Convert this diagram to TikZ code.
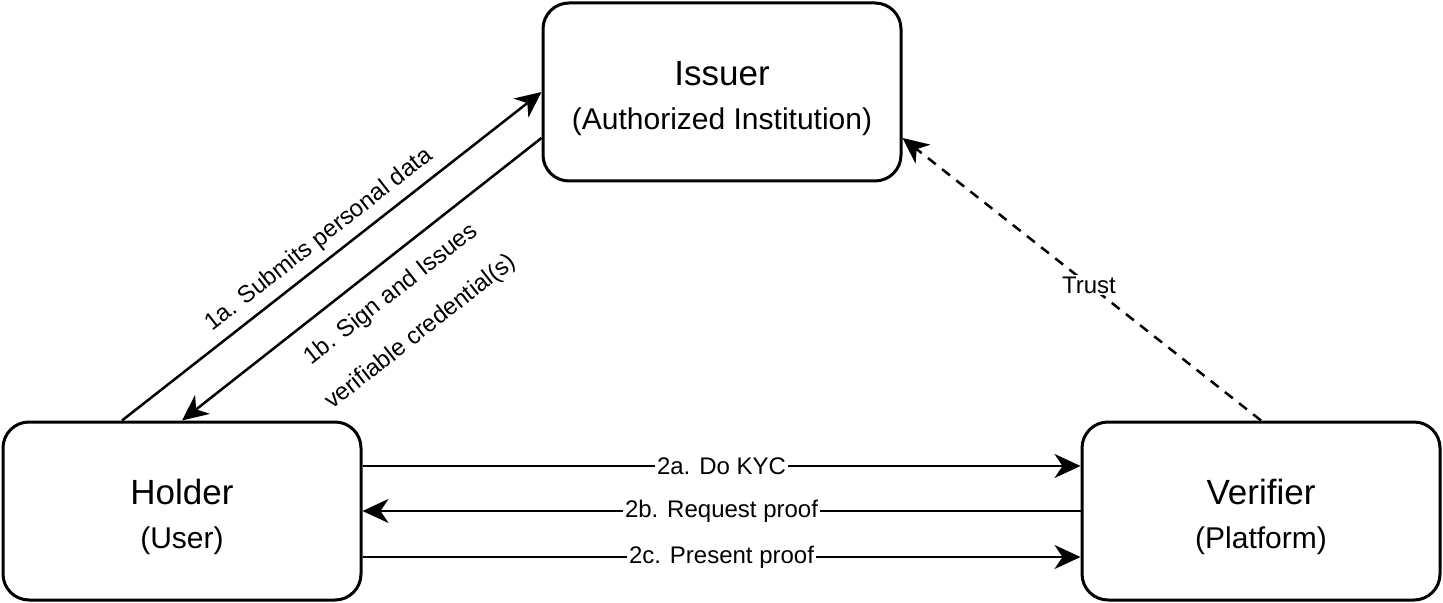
\documentclass[tikz,border=0pt]{standalone}
\usepackage{fontspec}
\setmainfont{Liberation Sans}
\usetikzlibrary{arrows.meta}

\begin{document}
\begin{tikzpicture}[x=0.5pt,y=-0.5pt,
  box/.style={draw,line width=1.5pt,rounded corners=13pt,minimum width=179pt,minimum height=89pt,
    align=center,inner sep=0pt,font=\fontsize{15}{18}\selectfont},
  ttl/.style={font=\fontsize{17.5}{21}\selectfont},
  arr/.style={line width=1.25pt,-{Stealth[length=13pt,width=12pt,inset=4pt]}},
  lbl/.style={font=\fontsize{12}{14}\selectfont,inner sep=1pt}]

  \useasboundingbox (0,0) rectangle (1443,603);

  \node[box] (I) at (722,92) {{\fontsize{17.5}{21}\selectfont\rule{0pt}{19pt}Issuer}\\[4pt](Authorized Institution)};
  \node[box] (H) at (182,511) {{\fontsize{17.5}{21}\selectfont\rule{0pt}{19pt}Holder}\\[4pt](User)};
  \node[box] (V) at (1261,511) {{\fontsize{17.5}{21}\selectfont\rule{0pt}{19pt}Verifier}\\[4pt](Platform)};

  \draw[arr] ([xshift=-30pt]H.north) -- (I.west)
    node[lbl,midway,sloped,above=3pt] {1a. Submits personal data};
  \draw[arr] ([yshift=-23pt]I.west) -- (H.north)
    node[lbl,pos=0.47,sloped,below=8pt,align=center] {1b. Sign and Issues\\[10pt]verifiable credential(s)};

  \draw[arr,dash pattern=on 5pt off 4pt] (V.north) -- ([yshift=-23pt]I.east)
    node[lbl,pos=0.48,fill=white] {Trust};

  \draw[arr] ([yshift=22.5pt]H.east) -- ([yshift=22.5pt]V.west) node[lbl,midway,fill=white] {2a. Do KYC};
  \draw[arr] (V.west) -- (H.east) node[lbl,midway,fill=white] {2b. Request proof};
  \draw[arr] ([yshift=-23pt]H.east) -- ([yshift=-23pt]V.west) node[lbl,midway,fill=white] {2c. Present proof};

\end{tikzpicture}
\end{document}
